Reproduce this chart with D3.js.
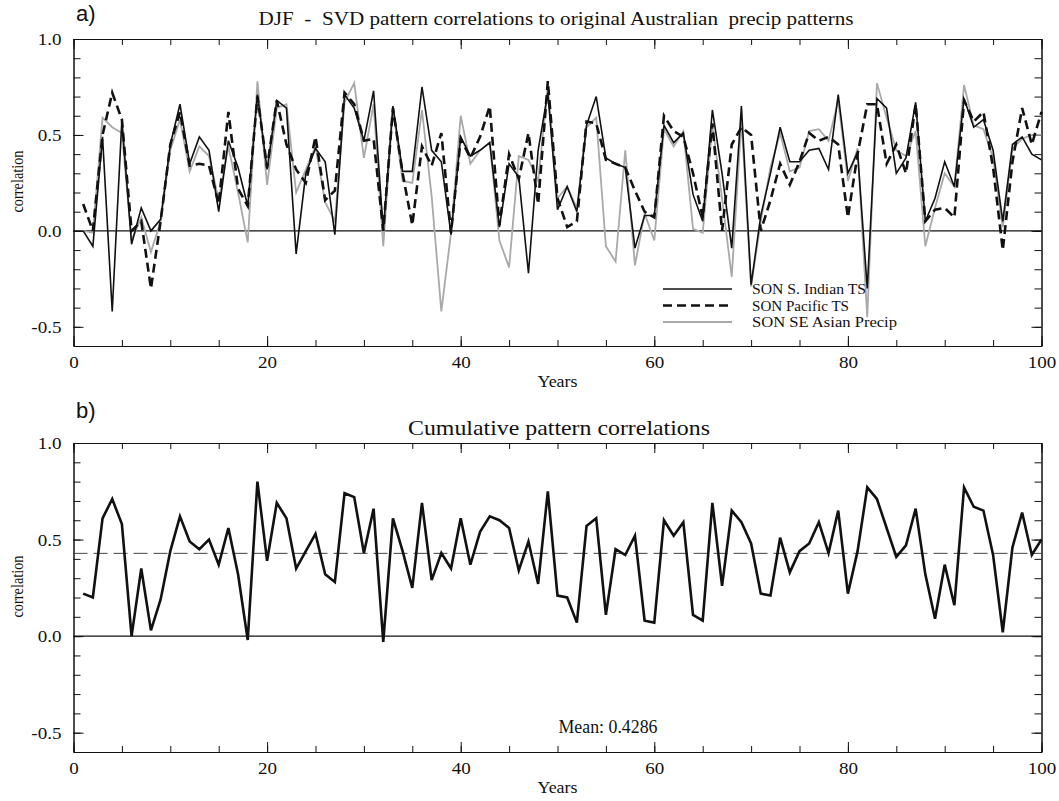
<!DOCTYPE html>
<html>
<head>
<meta charset="utf-8">
<script src="https://cdn.jsdelivr.net/npm/d3@7"></script>
<style>
  body { margin: 0; background: #fff; }
  text { font-family: "Liberation Serif", "Times New Roman", serif; fill: #111; }
  .axis path, .axis line { stroke: #111; }
</style>
</head>
<body>
<svg id="chart" width="1059" height="801"></svg>
<script>
// values, years 1..100
const sIndian = [0.00,-0.08,0.49,-0.42,0.58,-0.07,0.12,0.00,0.06,0.45,
  0.66,0.35,0.49,0.42,0.10,0.47,0.33,0.13,0.71,0.32,
  0.68,0.64,-0.12,0.30,0.43,0.36,-0.02,0.71,0.64,0.47,
  0.73,0.00,0.65,0.31,0.31,0.75,0.42,0.36,-0.02,0.49,
  0.39,0.42,0.46,0.02,0.35,0.28,-0.22,0.42,0.72,0.11,
  0.23,0.10,0.55,0.70,0.38,0.35,0.33,-0.09,0.08,0.08,
  0.55,0.46,0.51,0.19,0.05,0.63,0.30,-0.09,0.65,-0.28,
  0.08,0.30,0.54,0.36,0.36,0.42,0.43,0.32,0.71,0.30,
  0.41,-0.30,0.69,0.64,0.30,0.38,0.67,0.05,0.17,0.36,
  0.23,0.69,0.54,0.58,0.42,0.05,0.45,0.49,0.40,0.37]
const pacific = [0.14,0.00,0.50,0.72,0.58,0.00,0.05,-0.30,0.05,0.45,
  0.62,0.34,0.35,0.34,0.14,0.62,0.22,0.13,0.70,0.33,
  0.68,0.45,0.32,0.25,0.49,0.16,0.21,0.72,0.66,0.47,
  0.48,0.00,0.64,0.30,0.03,0.44,0.34,0.51,-0.01,0.48,
  0.38,0.49,0.65,0.03,0.40,0.27,0.51,0.14,0.78,0.17,
  0.02,0.05,0.57,0.56,0.37,0.35,0.33,0.21,0.10,0.07,
  0.60,0.52,0.49,0.30,0.07,0.56,0.00,0.45,0.54,0.50,
  0.00,0.16,0.35,0.24,0.36,0.51,0.47,0.49,0.45,0.07,
  0.40,0.66,0.66,0.35,0.45,0.30,0.66,0.05,0.11,0.12,
  0.07,0.68,0.57,0.62,0.33,-0.10,0.36,0.64,0.45,0.62]
const seAsian = [0.00,-0.01,0.59,0.54,0.51,-0.05,0.07,-0.11,0.05,0.42,
  0.58,0.31,0.44,0.39,0.16,0.44,0.20,-0.06,0.78,0.24,
  0.64,0.66,0.20,0.32,0.44,0.15,0.05,0.67,0.77,0.38,
  0.66,-0.08,0.64,0.26,0.25,0.63,0.18,-0.42,-0.01,0.60,
  0.35,0.42,0.46,-0.05,-0.19,0.39,0.37,0.26,0.75,0.17,
  0.23,0.12,0.54,0.59,-0.08,-0.16,0.42,-0.18,0.09,-0.05,
  0.53,0.44,0.52,0.01,-0.01,0.55,0.17,-0.24,0.58,-0.29,
  0.05,0.33,0.51,0.31,0.33,0.52,0.53,0.47,0.68,0.26,
  0.43,-0.45,0.77,0.59,0.42,0.39,0.52,-0.08,0.12,0.30,
  0.23,0.76,0.55,0.53,0.38,0.02,0.43,0.48,0.50,0.50]
const cumulative = [0.22,0.20,0.61,0.71,0.58,0.00,0.35,0.03,0.19,0.44,
  0.62,0.49,0.45,0.50,0.37,0.56,0.32,-0.02,0.80,0.39,
  0.69,0.61,0.35,0.44,0.53,0.32,0.28,0.74,0.72,0.43,
  0.66,-0.03,0.61,0.44,0.25,0.69,0.29,0.43,0.35,0.61,
  0.37,0.54,0.62,0.60,0.56,0.34,0.49,0.27,0.75,0.21,
  0.20,0.07,0.57,0.61,0.11,0.45,0.42,0.52,0.08,0.07,
  0.60,0.52,0.59,0.11,0.08,0.69,0.26,0.65,0.59,0.48,
  0.22,0.21,0.51,0.33,0.44,0.48,0.59,0.43,0.65,0.22,
  0.44,0.77,0.71,0.56,0.41,0.47,0.66,0.32,0.09,0.37,
  0.16,0.77,0.67,0.65,0.42,0.02,0.46,0.64,0.42,0.50]
const meanCorr = 0.4286
const years = d3.range(1, 101)
const xMajor = [0, 20, 40, 60, 80, 100]
const xMinor = [0,5,10,15,20,25,30,35,40,45,50,55,60,65,70,75,80,85,90,95,100]
const yMajor = [-0.5, 0.0, 0.5, 1.0]
const yMinor = [-0.6,-0.5,-0.4,-0.3,-0.2,-0.1,0,0.1,0.2,0.3,0.4,0.5,0.6,0.7,0.8,0.9,1.0]
const legendNames = ["SON S. Indian TS", "SON Pacific TS", "SON SE Asian Precip"]

const svg = d3.select("#chart")
const x = d3.scaleLinear().domain([0, 100]).range([73.5, 1041.5])

// the original lettering is wider than Times, stretch it to the measured width
let fit = (sel, w) => sel.attr("textLength", w).attr("lengthAdjust", "spacingAndGlyphs")
let widen = (sel, k) => sel.each(function () {
  let w = this.getComputedTextLength()
  d3.select(this).attr("textLength", w * k).attr("lengthAdjust", "spacingAndGlyphs")
})

let makePanel = (top, bottom) => {
  let y = d3.scaleLinear().domain([-0.6, 1.0]).range([bottom, top])
  let g = svg.append("g")

  // IDL style box: ticks inward on all four sides
  g.append("g").attr("class", "axis").attr("transform", `translate(0,${bottom})`)
    .call(d3.axisBottom(x).tickValues(xMinor).tickSize(-6).tickSizeOuter(0).tickFormat(""))
  g.append("g").attr("class", "axis").attr("transform", `translate(0,${top})`)
    .call(d3.axisTop(x).tickValues(xMinor).tickSize(-6).tickSizeOuter(0).tickFormat(""))
  let xAxis = g.append("g").attr("class", "axis").attr("transform", `translate(0,${bottom})`)
    .call(d3.axisBottom(x).tickValues(xMajor).tickSize(-10).tickSizeOuter(0).tickPadding(10)
      .tickFormat(d3.format("d")))
  g.append("g").attr("class", "axis").attr("transform", `translate(0,${top})`)
    .call(d3.axisTop(x).tickValues(xMajor).tickSize(-10).tickSizeOuter(0).tickFormat(""))

  g.append("g").attr("class", "axis").attr("transform", `translate(${x(0)},0)`)
    .call(d3.axisLeft(y).tickValues(yMinor).tickSize(-7).tickSizeOuter(0).tickFormat(""))
  g.append("g").attr("class", "axis").attr("transform", `translate(${x(100)},0)`)
    .call(d3.axisRight(y).tickValues(yMinor).tickSize(-7).tickSizeOuter(0).tickFormat(""))
  let yAxis = g.append("g").attr("class", "axis").attr("transform", `translate(${x(0)},0)`)
    .call(d3.axisLeft(y).tickValues(yMajor).tickSize(-10).tickSizeOuter(0).tickPadding(12)
      .tickFormat(d => d.toFixed(1)))
  g.append("g").attr("class", "axis").attr("transform", `translate(${x(100)},0)`)
    .call(d3.axisRight(y).tickValues(yMajor).tickSize(-10).tickSizeOuter(0).tickFormat(""))

  g.selectAll(".axis text")
    .style("font-family", '"Liberation Serif", serif')
    .style("font-size", "17px")
    .attr("fill", "#111")
  widen(xAxis.selectAll("text"), 1.12)
  widen(yAxis.selectAll("text"), 1.12)

  // zero line
  g.append("line")
    .attr("x1", x(0)).attr("x2", x(100))
    .attr("y1", y(0)).attr("y2", y(0))
    .attr("stroke", "#111").attr("stroke-width", 1.2)

  g.append("text")
    .attr("x", x(50)).attr("y", bottom + 41)
    .attr("text-anchor", "middle")
    .style("font-size", "16px")
    .text("Years")
    .call(fit, 40)

  g.append("text")
    .attr("transform", `translate(23,${(top + bottom) / 2 - 11}) rotate(-90)`)
    .attr("text-anchor", "middle")
    .style("font-size", "16px")
    .text("correlation")
    .call(fit, 62)

  return { g, y }
}

// ---- panel a
let a = makePanel(39, 346)

svg.append("text")
  .attr("x", 76).attr("y", 21)
  .style("font-family", '"Liberation Sans", Arial, sans-serif')
  .style("font-size", "22px")
  .text("a)")
svg.append("text")
  .attr("x", 556).attr("y", 25)
  .attr("text-anchor", "middle")
  .style("font-size", "19px")
  .style("white-space", "pre")
  .text("DJF  -  SVD pattern correlations to original Australian  precip patterns")
  .call(fit, 595)

let series = [
  { name: legendNames[0], values: sIndian, stroke: "#111", width: 1.6, dash: null, tw: 114 },
  { name: legendNames[1], values: pacific, stroke: "#111", width: 2.6, dash: "9,5", tw: 97 },
  { name: legendNames[2], values: seAsian, stroke: "#a9a9a9", width: 1.8, dash: null, tw: 145 }
]

let lineA = vals => d3.line()
  .x((d, i) => x(years[i]))
  .y(d => a.y(d))(vals)

a.g.selectAll(".series")
  .data([series[2], series[0], series[1]])
  .enter()
  .append("path")
  .attr("class", "series")
  .attr("d", d => lineA(d.values))
  .attr("fill", "none")
  .attr("stroke", d => d.stroke)
  .attr("stroke-width", d => d.width)
  .attr("stroke-dasharray", d => d.dash)
  .attr("stroke-linejoin", "miter")

let legend = a.g.selectAll(".legend")
  .data(series)
  .enter()
  .append("g")
  .attr("class", "legend")
  .attr("transform", (d, i) => `translate(663,${289 + i * 16.5})`)
legend.append("line")
  .attr("x1", 0).attr("x2", 69)
  .attr("stroke", d => d.stroke)
  .attr("stroke-width", d => d.width)
  .attr("stroke-dasharray", d => d.dash)
legend.append("text")
  .attr("x", 89).attr("y", 5)
  .style("font-size", "15px")
  .text(d => d.name)
  .attr("textLength", d => d.tw)
  .attr("lengthAdjust", "spacingAndGlyphs")

// ---- panel b
let b = makePanel(443, 752)

svg.append("text")
  .attr("x", 76).attr("y", 418)
  .style("font-family", '"Liberation Sans", Arial, sans-serif')
  .style("font-size", "22px")
  .text("b)")
svg.append("text")
  .attr("x", 559).attr("y", 435)
  .attr("text-anchor", "middle")
  .style("font-size", "21px")
  .text("Cumulative pattern correlations")
  .call(fit, 302)

b.g.append("line")
  .attr("x1", x(0)).attr("x2", x(100))
  .attr("y1", b.y(meanCorr)).attr("y2", b.y(meanCorr))
  .attr("stroke", "#444").attr("stroke-width", 1)
  .attr("stroke-dasharray", "14,6")

b.g.append("path")
  .attr("d", d3.line().x((d, i) => x(years[i])).y(d => b.y(d))(cumulative))
  .attr("fill", "none")
  .attr("stroke", "#111")
  .attr("stroke-width", 2.6)
  .attr("stroke-linejoin", "miter")

b.g.append("text")
  .attr("x", 608).attr("y", 733)
  .attr("text-anchor", "middle")
  .style("font-size", "18px")
  .text("Mean: " + meanCorr)
  .call(fit, 99)
</script>
</body>
</html>
